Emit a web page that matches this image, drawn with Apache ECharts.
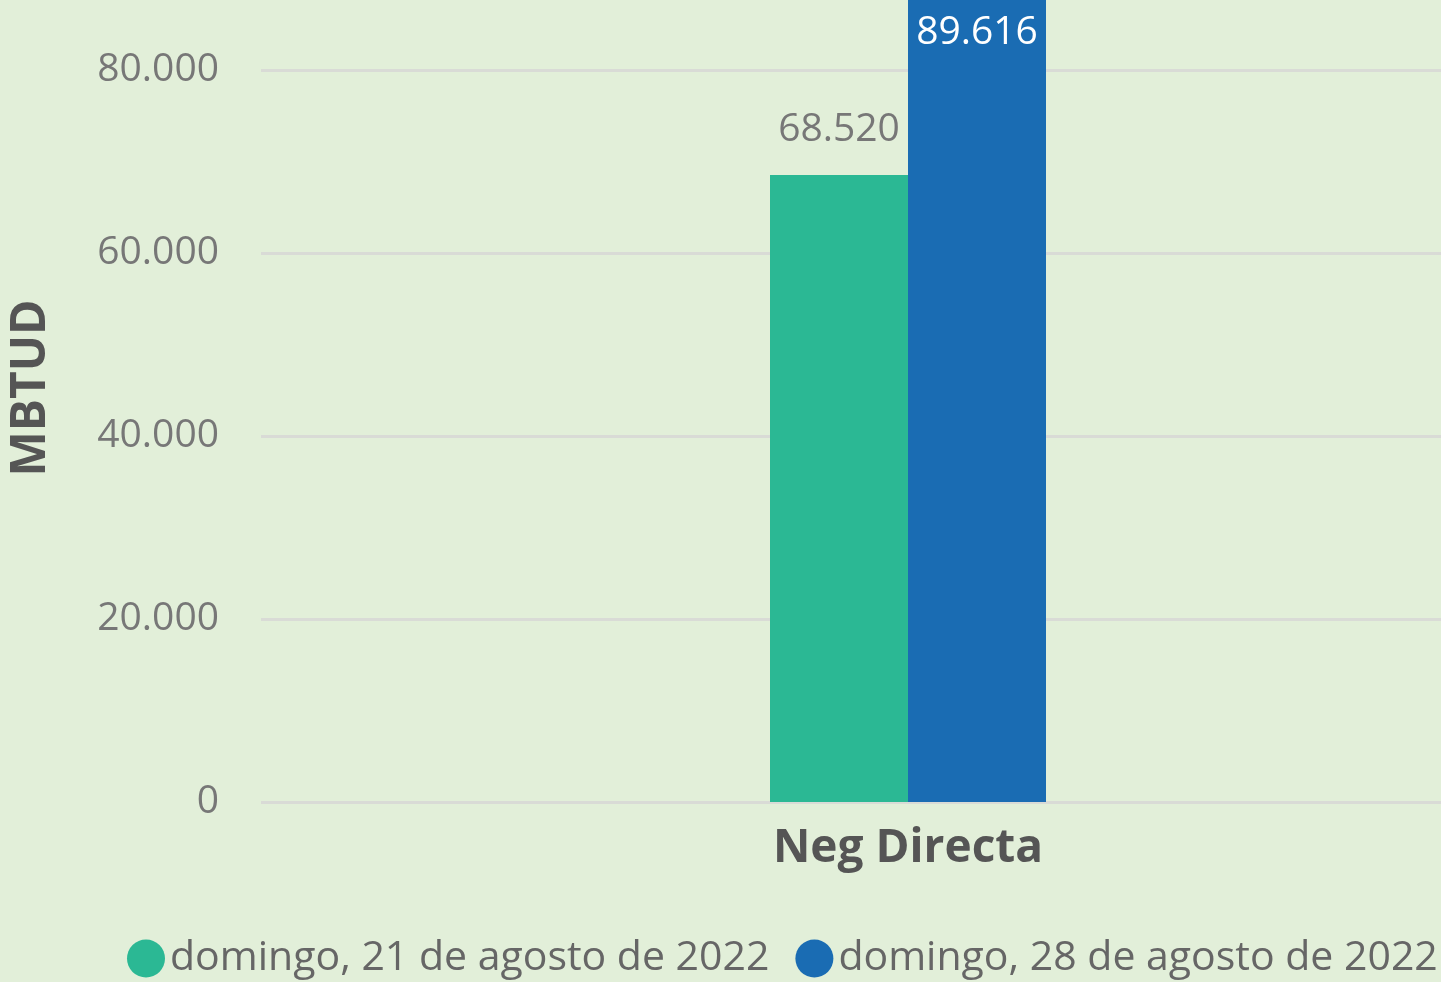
<!DOCTYPE html>
<html>
<head>
<meta charset="utf-8">
<title>Neg Directa</title>
<script src="https://cdn.jsdelivr.net/npm/echarts@6/dist/echarts.min.js"></script>
<style>
  html, body { margin: 0; padding: 0; background: #e2efd9; }
  #app { width: 1441px; height: 982px; }
</style>
</head>
<body>
<div id="app"></div>
<script>
var categories = ['Neg Directa'];
var seriesNames = ['domingo, 21 de agosto de 2022', 'domingo, 28 de agosto de 2022'];
var week1 = [68520];
var week2 = [89616];
var yTicks = [0, 20000, 40000, 60000, 80000];

var font = '"Open Sans", "Noto Sans", sans-serif';

// thousands with a dot, like the report
function fmt(v) {
    return String(Math.round(v)).replace(/\B(?=(\d{3})+(?!\d))/g, '.');
}

var chart = echarts.init(document.getElementById('app'));

chart.setOption({
    backgroundColor: '#e2efd9',
    animation: false,
    textStyle: { fontFamily: font },
    grid: { left: 261, width: 1294, top: -2, bottom: 180, outerBoundsMode: 'none', containLabel: false },
    legend: {
        data: seriesNames,
        left: 127,
        bottom: 3,
        width: 1314,
        padding: 0,
        icon: 'circle',
        itemWidth: 38,
        itemHeight: 38,
        itemGap: 26,
        textStyle: { fontSize: 41, color: '#666666', fontFamily: font }
    },
    xAxis: {
        type: 'category',
        data: categories,
        axisLine: { show: false },
        axisTick: { show: false },
        axisLabel: { fontSize: 46, fontWeight: 'bold', color: '#555555', margin: 24, fontFamily: font }
    },
    yAxis: {
        type: 'value',
        min: 0,
        max: 87870,
        interval: yTicks[1] - yTicks[0],
        name: 'MBTUD',
        nameLocation: 'middle',
        nameGap: 206,
        nameTextStyle: { fontSize: 48, fontWeight: 'bold', color: '#555555', fontFamily: font, padding: [0, 0, 0, 24] },
        axisLine: { show: false },
        axisTick: { show: false },
        axisLabel: {
            fontSize: 39, color: '#777777', margin: 42, showMaxLabel: false,
            formatter: function (v) { return fmt(v); }
        },
        splitLine: { lineStyle: { color: '#d9dbd6', width: 3 } }
    },
    series: [
        {
            name: seriesNames[0],
            type: 'bar',
            data: week1,
            barWidth: 138,
            barGap: '0%',
            itemStyle: { color: '#2bb894' },
            label: {
                show: true, position: 'top', distance: 26,
                fontSize: 39, color: '#777777', fontFamily: font,
                formatter: function (p) { return fmt(p.value); }
            }
        },
        {
            name: seriesNames[1],
            type: 'bar',
            data: week2,
            barWidth: 138,
            itemStyle: { color: '#1a6cb3' },
            label: {
                show: true, position: 'insideTop', distance: 15,
                fontSize: 39, color: '#ffffff', fontFamily: font,
                formatter: function (p) { return fmt(p.value); }
            }
        }
    ]
});
</script>
</body>
</html>
